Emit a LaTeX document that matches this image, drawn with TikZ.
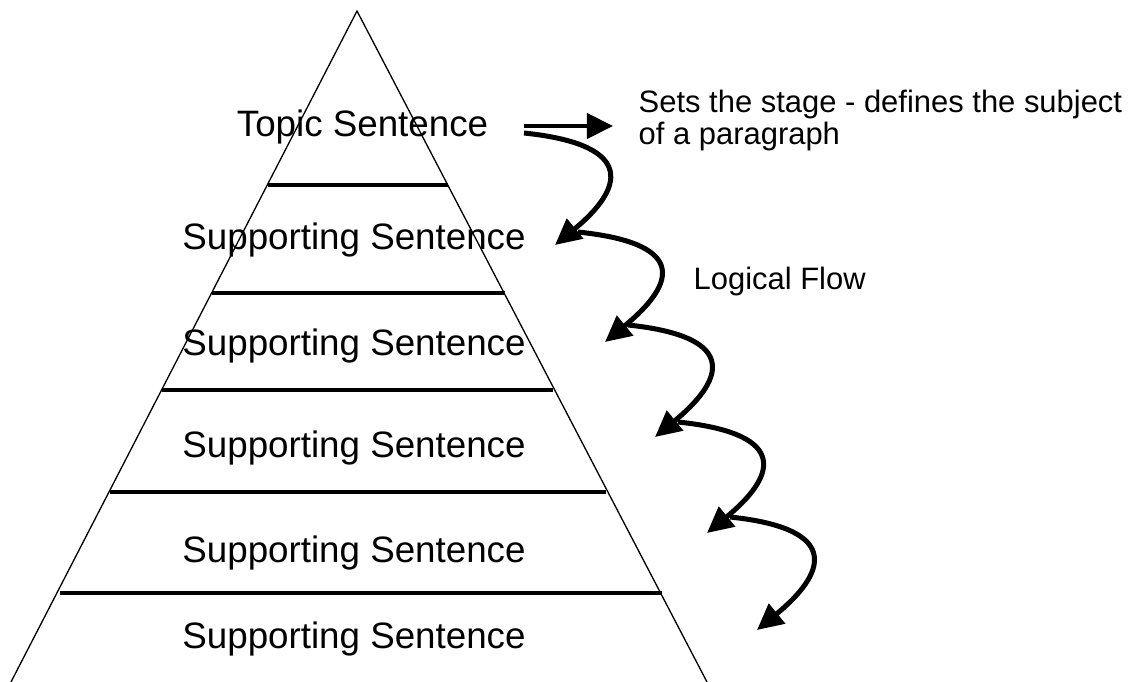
\documentclass[tikz,border=0pt]{standalone}
\usepackage{fontspec}
\setmainfont{Liberation Sans}
\usetikzlibrary{arrows.meta}
\begin{document}
\begin{tikzpicture}[x=0.01cm, y=-0.01cm,
    txt/.style={font=\fontsize{10.45}{12}\selectfont, inner sep=0pt, anchor=base},
    sidetext/.style={font=\fontsize{8.8}{9.1}\selectfont, inner sep=0pt, anchor=base west, align=left},
    tier/.style={line width=0.04cm},
    flow/.style={line width=0.05cm, -{Triangle[length=0.26cm, width=0.25cm]}}]
  \useasboundingbox (0,0) rectangle (1145,682);
  % pyramid and its tiers
  \coordinate (apex) at (357,11);
  \coordinate (baseL) at (11,682);
  \coordinate (baseR) at (707,682);
  \draw[line width=0.013cm] (baseL) -- (apex) -- (baseR);
  \draw[tier] (268,185) -- (448,185);
  \draw[tier] (212,293) -- (505,293);
  \draw[tier] (162,390) -- (553,390);
  \draw[tier] (110,492) -- (606,492);
  \draw[tier] (60,593) -- (662,593);
  % sentences
  \node[txt] (topic) at (362.5,137) {Topic Sentence};
  \node[txt] (sup1) at (354,250) {Supporting Sentence};
  \node[txt] (sup2) at (354,355) {Supporting Sentence};
  \node[txt] (sup3) at (354,457) {Supporting Sentence};
  \node[txt] (sup4) at (354,562) {Supporting Sentence};
  \node[txt] (sup5) at (354,648) {Supporting Sentence};
  \node[sidetext] (stage) at (638,145) {Sets the stage - defines the subject\\of a paragraph};
  \node[sidetext] (logic) at (693,290) {Logical Flow};
  % arrows
  \coordinate (d0) at (524,126);
  \coordinate (d1) at (613,126);
  \draw[flow, line width=0.042cm] (d0) -- (d1);
  \coordinate (s1) at (524,133);  \coordinate (t1) at (555,245);
  \coordinate (s2) at (578,232);  \coordinate (t2) at (605,342);
  \coordinate (s3) at (628,325);  \coordinate (t3) at (655,437);
  \coordinate (s4) at (678,422);  \coordinate (t4) at (707,533);
  \coordinate (s5) at (730,517);  \coordinate (t5) at (757,630);
  \foreach \i in {1,...,5}
    \draw[flow] (s\i) .. controls +(115,12) and +(67,-55) .. (t\i);
\end{tikzpicture}
\end{document}
